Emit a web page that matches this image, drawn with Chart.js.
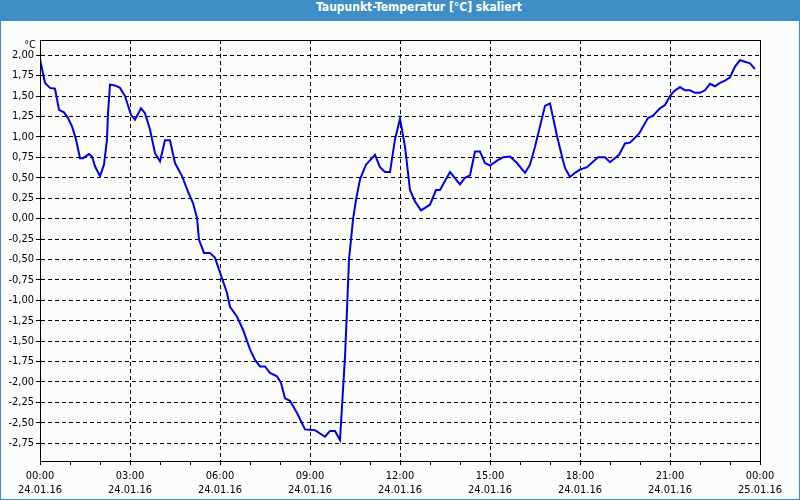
<!DOCTYPE html>
<html>
<head>
<meta charset="utf-8">
<script src="https://cdn.jsdelivr.net/npm/chart.js@4.4.1/dist/chart.umd.min.js"></script>
<style>
html,body{margin:0;padding:0;background:#fff;}
#frame{width:800px;height:500px;box-sizing:border-box;background:#3d8fc6;padding:0 1px 1px 1px;}
#title{height:21px;line-height:20px;color:#fff;font:bold 12px "DejaVu Sans Condensed","DejaVu Sans",sans-serif;text-align:center;padding-left:38px;box-sizing:border-box;}
#box{width:798px;height:478px;background:#fbfdfb;}
canvas{display:block;}
</style>
</head>
<body>
<div id="frame">
  <div id="title">Taupunkt-Temperatur [°C] skaliert</div>
  <div id="box"><canvas id="myChart" width="798" height="478"></canvas></div>
</div>
<script>
// minutes since 24.01.16 00:00
var minutes = [0,10,20,30,38,48,56,64,72,80,86,98,104,110,120,128,134,136,140,150,160,170,182,190,202,210,220,230,240,250,260,270,284,296,306,314,
  318,328,340,350,364,374,380,394,406,420,430,440,450,460,474,482,490,500,514,530,550,570,580,590,600,604,610,614,618,622,626,632,640,652,670,
  680,690,700,710,720,730,740,750,762,780,792,800,820,840,850,860,870,880,890,900,914,926,940,954,970,980,990,1010,1020,1034,1044,1050,1060,
  1070,1080,1094,1116,1130,1140,1158,1170,1180,1198,1216,1226,1240,1250,1260,1268,1280,1290,1300,1310,1320,1330,1340,1350,1360,1370,1380,
  1390,1400,1410,1420,1430];
var taupunkt = [1.95,1.66,1.60,1.59,1.33,1.30,1.23,1.13,0.97,0.74,0.74,0.79,0.76,0.64,0.52,0.66,0.97,1.29,1.64,1.63,1.60,1.50,1.27,1.21,1.35,1.29,1.09,0.80,0.70,0.96,0.96,0.68,0.52,0.33,0.19,0.01,
  -0.26,-0.42,-0.42,-0.48,-0.73,-0.91,-1.08,-1.20,-1.36,-1.60,-1.73,-1.81,-1.81,-1.89,-1.93,-2.01,-2.20,-2.23,-2.38,-2.58,-2.59,-2.67,-2.60,-2.60,-2.71,-2.30,-1.69,-1.12,-0.50,-0.26,-0.01,0.23,0.48,0.66,0.78,
  0.63,0.57,0.57,0.97,1.22,0.88,0.35,0.21,0.10,0.17,0.35,0.35,0.57,0.42,0.50,0.53,0.82,0.82,0.68,0.65,0.71,0.75,0.76,0.68,0.56,0.66,0.88,1.38,1.41,1.01,0.76,0.62,0.51,
  0.56,0.60,0.63,0.75,0.75,0.69,0.78,0.92,0.93,1.04,1.23,1.26,1.35,1.39,1.50,1.56,1.61,1.57,1.57,1.54,1.54,1.57,1.65,1.62,1.66,1.69,1.73,
  1.86,1.94,1.92,1.90,1.83];
var yTicks = [2.00,1.75,1.50,1.25,1.00,0.75,0.50,0.25,0.00,-0.25,-0.50,-0.75,-1.00,-1.25,-1.50,-1.75,-2.00,-2.25,-2.50,-2.75];
var xTickLabels = [["00:00","24.01.16"],["03:00","24.01.16"],["06:00","24.01.16"],["09:00","24.01.16"],["12:00","24.01.16"],
  ["15:00","24.01.16"],["18:00","24.01.16"],["21:00","24.01.16"],["00:00","25.01.16"]];
var yUnit = "°C";

var pts = [];
for (var i = 0; i < minutes.length; i++) pts.push({x: minutes[i], y: taupunkt[i]});

var tickFont = {family: "'DejaVu Sans Condensed','DejaVu Sans',sans-serif", size: 11};

var frameBox = {
  id: 'frameBox',
  afterDraw: function (chart) {
    var a = chart.chartArea, c = chart.ctx;
    c.save();
    c.strokeStyle = '#000';
    c.lineWidth = 1;
    c.strokeRect(Math.round(a.left) + 0.5, Math.round(a.top) + 0.5, Math.round(a.right - a.left), Math.round(a.bottom - a.top));
    c.fillStyle = '#000';
    c.font = "11px 'DejaVu Sans Condensed','DejaVu Sans',sans-serif";
    c.textAlign = 'right';
    c.textBaseline = 'middle';
    c.fillText(yUnit, a.left - 4, a.top + 5);
    c.restore();
  }
};

var ctx = document.getElementById('myChart').getContext('2d');
var myChart = new Chart(ctx, {
  type: 'line',
  data: {
    datasets: [{
      label: 'Taupunkt',
      data: pts,
      borderColor: '#0000e6',
      borderWidth: 2,
      pointRadius: 0,
      tension: 0,
      fill: false
    }]
  },
  options: {
    responsive: false,
    animation: false,
    layout: {padding: {top: 19, right: 39, left: 0, bottom: 0}},
    plugins: {legend: {display: false}, tooltip: {enabled: false}, title: {display: false}},
    scales: {
      x: {
        type: 'linear',
        min: 0,
        max: 1440,
        afterBuildTicks: function (s) {
          var t = [];
          for (var m = 0; m <= 1440; m += 60) t.push({value: m});
          s.ticks = t;
        },
        afterFit: function (s) { s.height = 38; },
        ticks: {
          autoSkip: false,
          maxRotation: 0,
          padding: 5,
          color: '#000',
          font: tickFont,
          callback: function (v) {
            return v % 180 === 0 ? xTickLabels[v / 180] : '';
          }
        },
        grid: {
          color: function (c) { return c.tick && c.tick.value % 180 === 0 ? '#000' : 'rgba(0,0,0,0)'; },
          tickColor: '#000',
          tickLength: 4,
          lineWidth: 1
        },
        border: {display: true, color: '#000', dash: [4, 3]}
      },
      y: {
        min: -2.967,
        max: 2.186,
        afterBuildTicks: function (s) {
          s.ticks = yTicks.map(function (v) { return {value: v}; });
        },
        afterFit: function (s) { s.width = 39; },
        ticks: {
          padding: 2,
          color: '#000',
          font: tickFont,
          callback: function (v) { return v.toFixed(2).replace('.', ','); }
        },
        grid: {color: '#000', tickColor: '#000', tickLength: 4, lineWidth: 1},
        border: {display: true, color: '#000', dash: [4, 3]}
      }
    }
  },
  plugins: [frameBox]
});
</script>
</body>
</html>
